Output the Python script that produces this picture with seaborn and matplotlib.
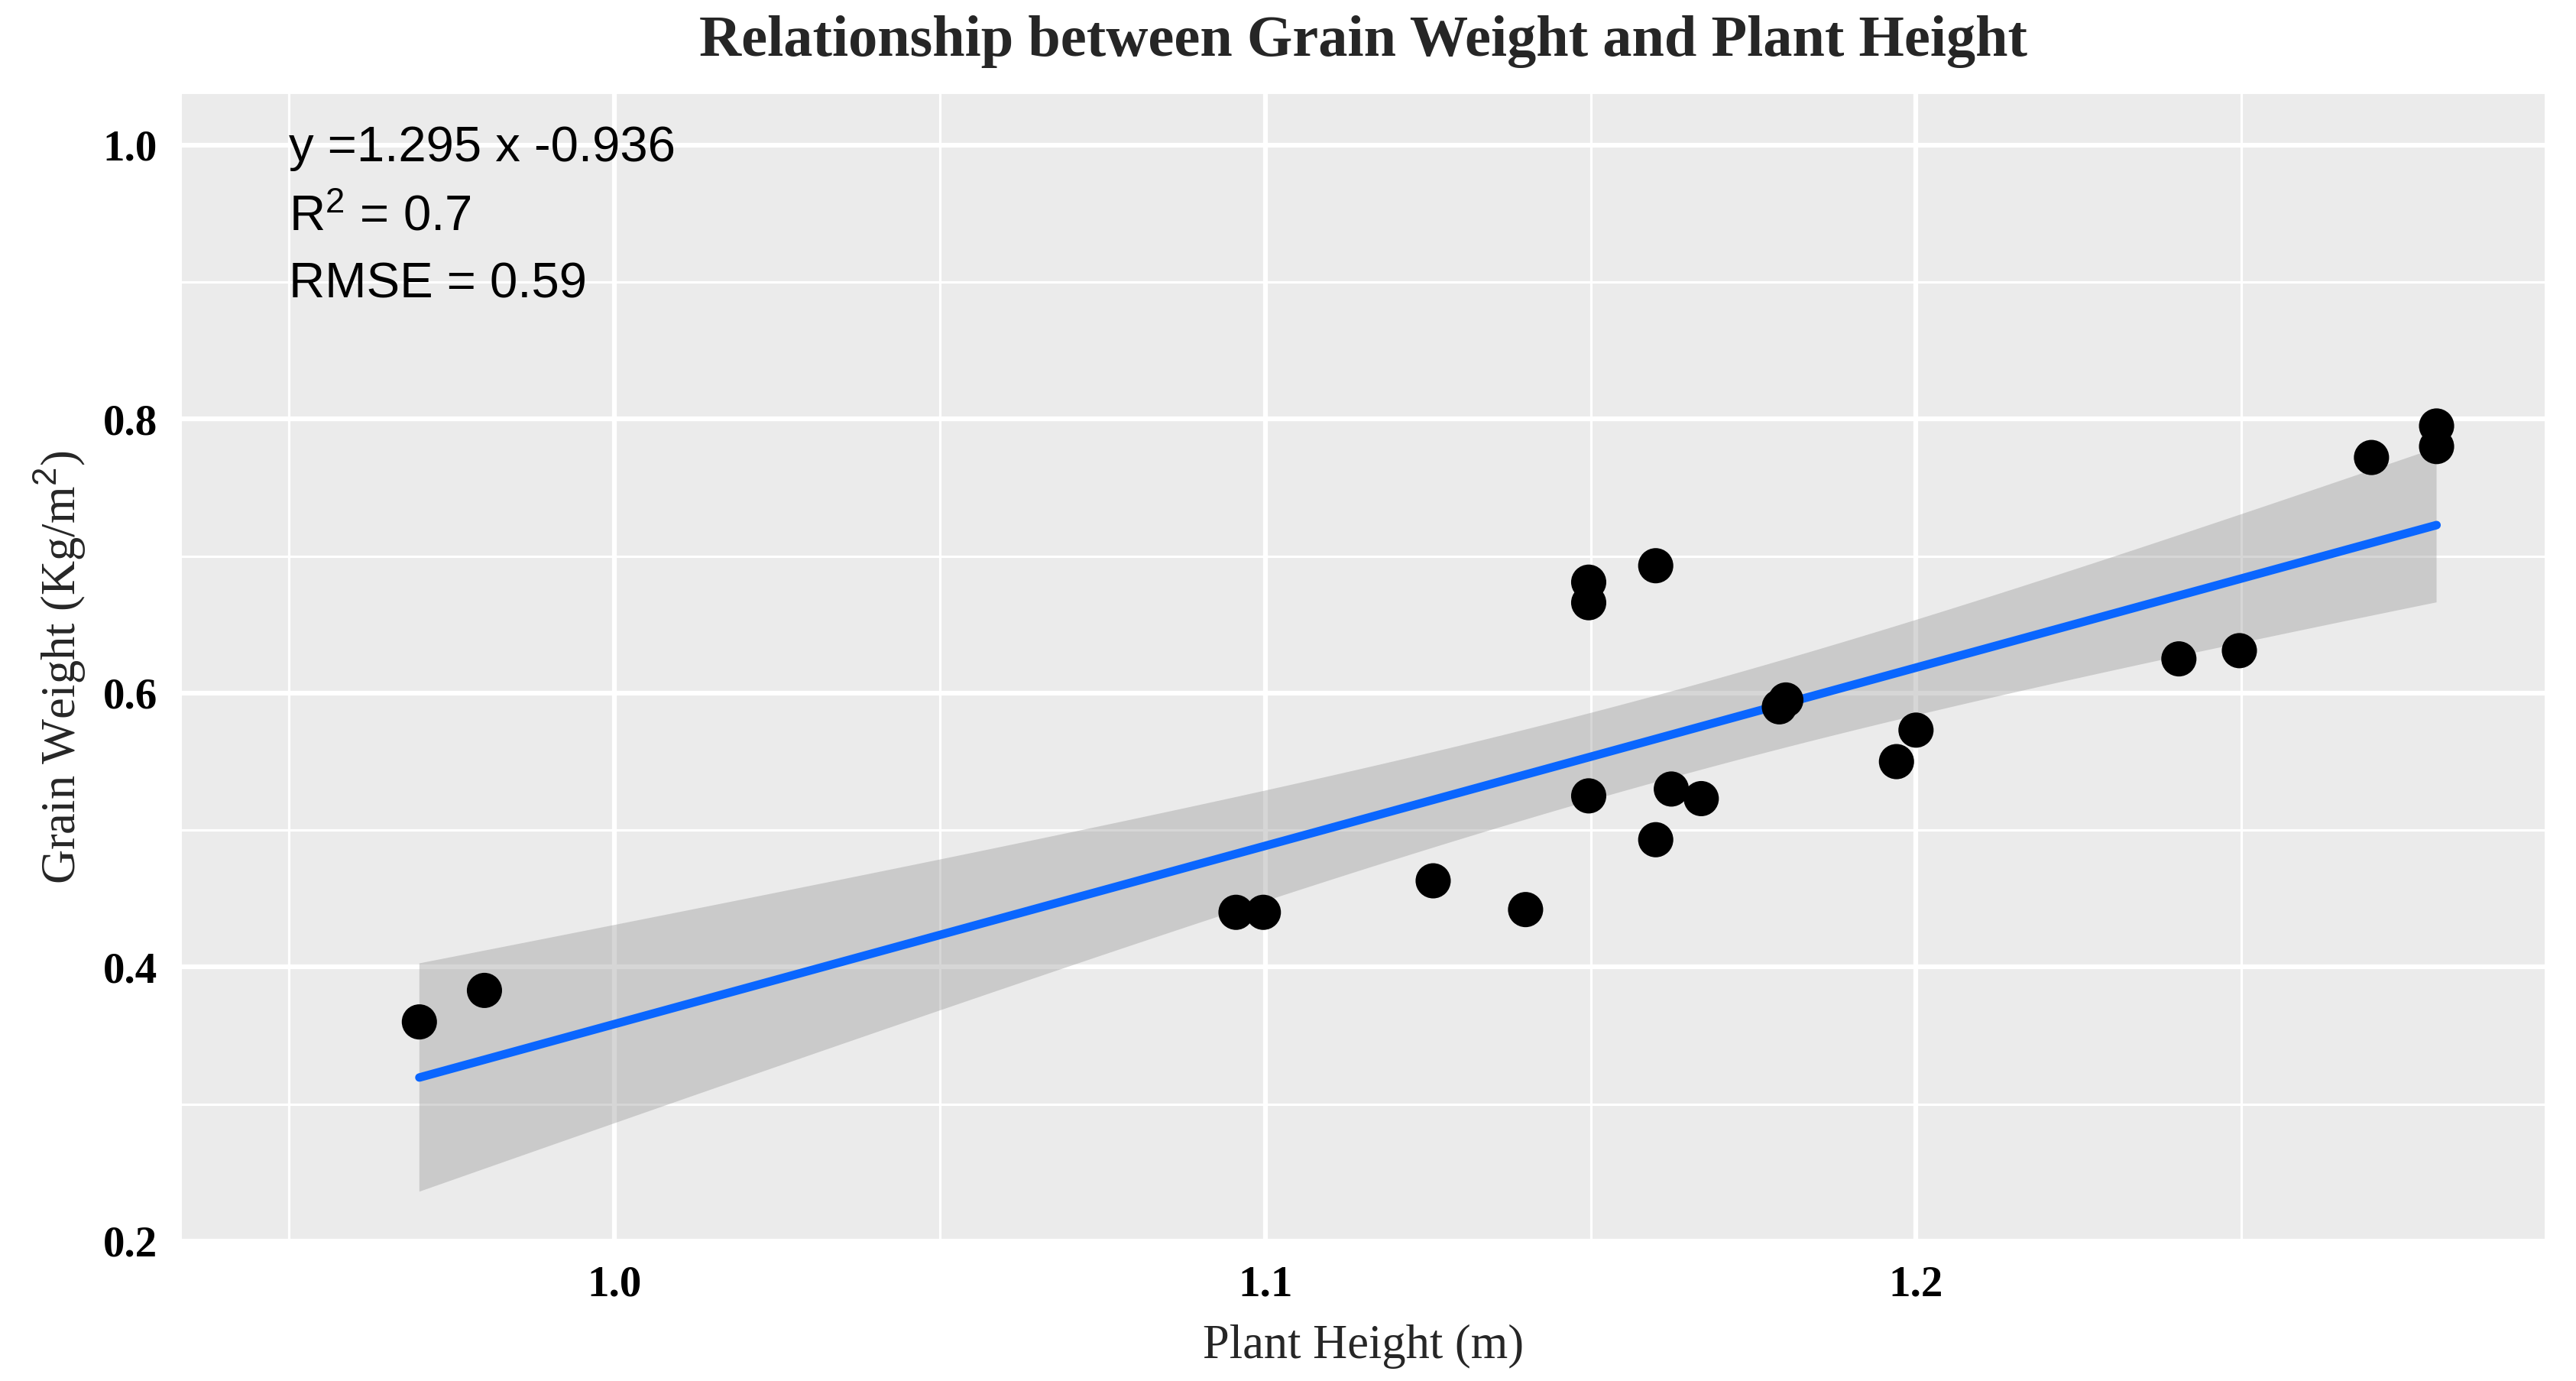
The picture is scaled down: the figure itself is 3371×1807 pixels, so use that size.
import matplotlib
matplotlib.use("Agg")
import matplotlib.pyplot as plt
import seaborn as sns
import numpy as np
import pandas as pd

# plant height (m) and grain weight (kg/m2)
plant_height = [0.970, 0.980, 1.0955, 1.0997, 1.1258, 1.140, 1.1497, 1.1497, 1.1497,
                1.160, 1.160, 1.1624, 1.167, 1.179, 1.180, 1.197, 1.200,
                1.2404, 1.2497, 1.270, 1.280, 1.280]
grain_weight = [0.360, 0.383, 0.440, 0.440, 0.463, 0.442, 0.681, 0.666, 0.525,
                0.693, 0.493, 0.530, 0.523, 0.590, 0.595, 0.550, 0.573,
                0.625, 0.631, 0.772, 0.795, 0.780]

x_ticks = [1.0, 1.1, 1.2]
y_ticks = [0.2, 0.4, 0.6, 0.8, 1.0]
stats_lines = ["y =1.295 x -0.936", "R$^{2}$ = 0.7", "RMSE = 0.59"]
stats_y = [0.998, 0.947, 0.898]

df = pd.DataFrame({"height": plant_height, "weight": grain_weight})

sns.set_theme(style="darkgrid")
plt.rcParams["font.family"] = ["Liberation Serif", "DejaVu Serif"]
plt.rcParams["mathtext.fontset"] = "custom"
plt.rcParams["mathtext.rm"] = "Liberation Sans"
plt.rcParams["mathtext.default"] = "rm"

fig = plt.figure(figsize=(33.71, 18.07), dpi=100)
ax = fig.add_axes([0.0706, 0.1013, 0.9172, 0.8306])
ax.set_facecolor("#EBEBEB")

# 95% confidence band of the linear fit (like geom_smooth(method="lm"))
xv = np.array(plant_height)
yv = np.array(grain_weight)
n = len(xv)
b1, b0 = np.polyfit(xv, yv, 1)
resid = yv - (b0 + b1 * xv)
s_err = np.sqrt(np.sum(resid ** 2) / (n - 2))
grid = np.linspace(xv.min(), xv.max(), 200)
se_fit = s_err * np.sqrt(1.0 / n + (grid - xv.mean()) ** 2 / np.sum((xv - xv.mean()) ** 2))
t_val = 2.086  # t quantile, 20 degrees of freedom
fit = b0 + b1 * grid
ax.fill_between(grid, fit - t_val * se_fit, fit + t_val * se_fit,
                facecolor="#999999", alpha=0.4, edgecolor="none", zorder=2)

sns.regplot(data=df, x="height", y="weight", ax=ax, scatter=False, ci=None,
            truncate=True, line_kws={"color": "#0A66FF", "linewidth": 8, "zorder": 3})

sns.scatterplot(data=df, x="height", y="weight", ax=ax, color="black",
                s=1100, edgecolor="none", zorder=4)

ax.set_xlim(0.9335, 1.2966)
ax.set_ylim(0.2, 1.0373)
ax.set_xticks(x_ticks)
ax.set_yticks(y_ticks)
ax.set_xticks([0.95, 1.05, 1.15, 1.25], minor=True)
ax.set_yticks([0.3, 0.5, 0.7, 0.9], minor=True)
ax.grid(which="major", color="white", linewidth=4.5)
ax.grid(which="minor", color="white", linewidth=2.3)
ax.set_axisbelow(True)
for sp in ax.spines.values():
    sp.set_visible(False)

ax.tick_params(axis="both", which="major", length=12, width=3, color="#333333",
               labelsize=41, labelcolor="black", pad=11)
ax.tick_params(axis="both", which="minor", length=0)
for lab in ax.get_xticklabels() + ax.get_yticklabels():
    lab.set_fontweight("bold")

ax.set_xlabel("Plant Height (m)", fontsize=45, labelpad=18)
ax.set_ylabel("Grain Weight (Kg/m$^{2}$)", fontsize=45, labelpad=14)
ax.set_title("Relationship between Grain Weight and Plant Height",
             fontsize=55, fontweight="bold", pad=36)

for txt, yval in zip(stats_lines, stats_y):
    ax.text(0.95, yval, txt, ha="left", va="center", fontsize=47,
            family=["Liberation Sans", "DejaVu Sans"], color="black")

fig.savefig("out.png", dpi=100, facecolor="white")
